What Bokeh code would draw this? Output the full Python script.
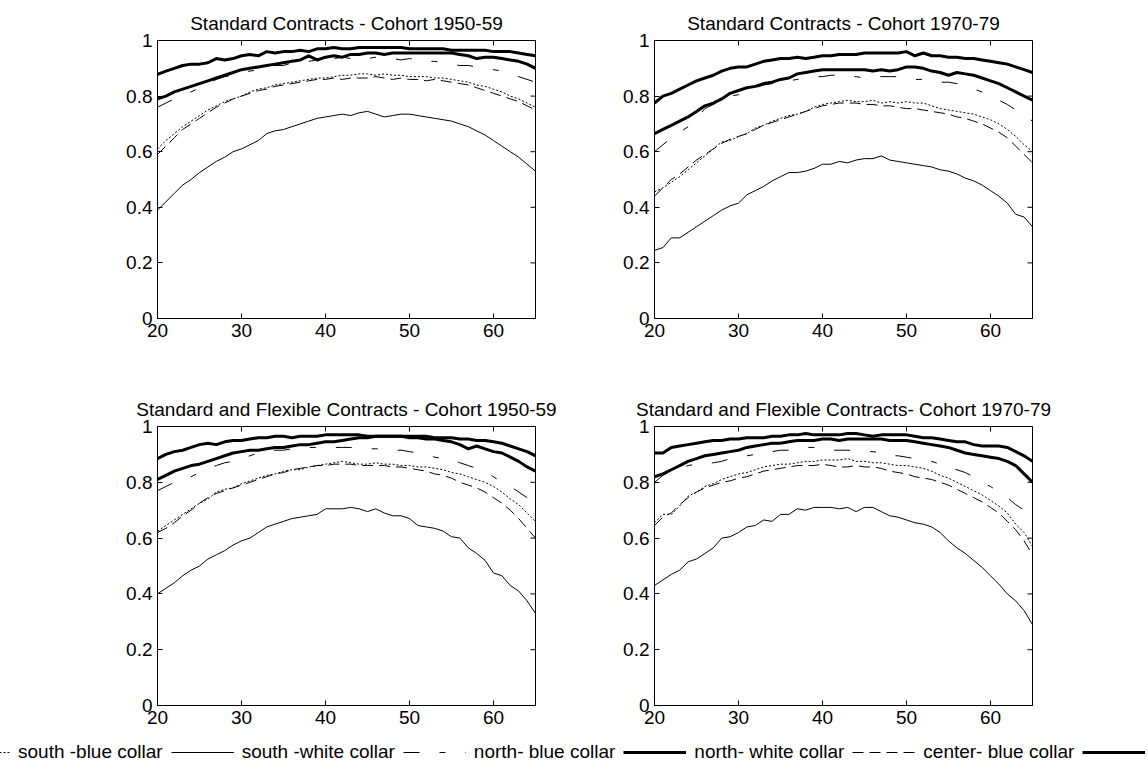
import math
from bokeh.plotting import figure
from bokeh.models import (Range1d, FixedTicker, PrintfTickFormatter,
                          Legend, LegendItem, ColumnDataSource)
from bokeh.layouts import column, row
from bokeh.embed import file_html
from bokeh.resources import INLINE

FONT = "Liberation Sans"

ages = list(range(20, 66))
x_ticks = [20, 30, 40, 50, 60]
y_ticks = [0, 0.2, 0.4, 0.6, 0.8, 1]

titles = ["Standard Contracts - Cohort 1950-59",
          "Standard Contracts - Cohort 1970-79",
          "Standard and Flexible Contracts - Cohort 1950-59",
          "Standard and Flexible Contracts- Cohort 1970-79"]

legend_labels = ["south -blue collar", "south -white collar", "north- blue collar",
                 "north- white collar", "center- blue collar", "center- white collar"]

# ---------------- Panel 1: Standard Contracts - Cohort 1950-59 ----------------
p1_north_white = [.878, .89, .90, .91, .915, .915, .92, .935, .93, .935, .945, .95, .945, .96, .955, .96,
                  .96, .965, .96, .97, .97, .975, .97, .97, .975, .975, .975, .975, .975, .975, .97, .97,
                  .97, .97, .97, .965, .965, .965, .965, .965, .96, .96, .96, .955, .95, .945]
p1_center_white = [.79, .80, .815, .825, .835, .845, .855, .865, .875, .885, .895, .90, .905, .91, .915, .92,
                   .925, .93, .945, .93, .94, .945, .94, .95, .95, .955, .955, .95, .955, .955, .955, .955,
                   .955, .955, .955, .955, .95, .945, .935, .94, .94, .935, .93, .925, .915, .90]
p1_north_blue = [.76, .775, .79, .80, .815, .83, .845, .86, .87, .875, .885, .89, .895, .905, .91, .91,
                 .92, .92, .925, .93, .935, .935, .94, .935, .93, .935, .94, .935, .935, .93, .935, .93,
                 .925, .925, .92, .915, .91, .91, .905, .90, .895, .89, .88, .87, .86, .85]
p1_center_blue = [.59, .62, .65, .68, .70, .72, .74, .76, .775, .79, .80, .81, .82, .825, .835, .84,
                  .845, .85, .855, .86, .86, .865, .86, .865, .865, .865, .87, .865, .86, .865, .86, .86,
                  .855, .86, .855, .85, .845, .84, .83, .82, .81, .80, .79, .78, .765, .75]
p1_south_blue = [.61, .64, .665, .69, .71, .73, .75, .765, .78, .79, .80, .815, .825, .83, .84, .845,
                 .85, .855, .86, .865, .865, .87, .875, .875, .88, .88, .875, .88, .875, .875, .87, .87,
                 .87, .865, .865, .86, .855, .85, .84, .835, .825, .815, .80, .79, .775, .76]
p1_south_white = [.39, .42, .45, .48, .50, .525, .545, .565, .58, .60, .61, .625, .64, .665, .675, .68,
                  .69, .70, .71, .72, .725, .73, .735, .73, .74, .745, .735, .725, .73, .735, .735, .73,
                  .725, .72, .715, .71, .70, .69, .675, .66, .64, .62, .60, .58, .555, .53]

# ---------------- Panel 2: Standard Contracts - Cohort 1970-79 ----------------
p2_north_white = [.775, .80, .81, .825, .84, .855, .865, .875, .89, .90, .905, .905, .915, .925, .93, .935,
                  .935, .94, .935, .94, .945, .945, .95, .95, .95, .955, .955, .955, .955, .955, .96, .945,
                  .955, .945, .945, .94, .94, .935, .935, .93, .925, .92, .915, .905, .895, .885]
p2_center_white = [.665, .68, .695, .71, .725, .745, .765, .775, .79, .81, .82, .83, .835, .845, .85, .86,
                   .865, .88, .885, .89, .895, .895, .895, .895, .895, .895, .89, .895, .89, .895, .905, .905,
                   .90, .89, .885, .875, .885, .88, .875, .865, .855, .845, .83, .815, .80, .785]
p2_north_blue = [.60, .625, .65, .67, .69, .72, .755, .77, .785, .80, .805, .815, .83, .84, .845, .85,
                 .855, .86, .865, .87, .87, .875, .875, .87, .87, .865, .865, .87, .87, .87, .865, .86,
                 .86, .855, .85, .85, .845, .835, .825, .815, .80, .785, .77, .75, .73, .71]
p2_center_blue = [.44, .47, .50, .52, .545, .57, .59, .61, .63, .645, .655, .665, .68, .695, .705, .715,
                  .725, .735, .745, .755, .765, .77, .775, .775, .775, .77, .77, .765, .765, .76, .755, .755,
                  .75, .745, .74, .735, .725, .72, .71, .70, .685, .67, .65, .62, .59, .56]
p2_south_blue = [.455, .47, .49, .51, .535, .56, .585, .61, .635, .64, .655, .665, .685, .695, .71, .72,
                 .73, .735, .745, .76, .77, .775, .78, .785, .78, .78, .785, .775, .78, .775, .78, .775,
                 .775, .765, .755, .75, .745, .74, .735, .725, .715, .70, .68, .655, .625, .60]
p2_south_white = [.245, .255, .29, .29, .31, .33, .35, .37, .39, .405, .415, .445, .46, .475, .495, .51,
                  .525, .525, .53, .54, .555, .555, .565, .56, .57, .575, .575, .585, .57, .565, .56, .555,
                  .55, .545, .535, .53, .52, .505, .495, .48, .46, .44, .415, .375, .365, .33]

# ------- Panel 3: Standard and Flexible Contracts - Cohort 1950-59 -------
p3_north_white = [.885, .90, .91, .915, .925, .935, .94, .935, .945, .95, .95, .955, .96, .96, .965, .965,
                  .96, .965, .965, .965, .97, .97, .97, .97, .97, .965, .965, .965, .965, .965, .965, .965,
                  .965, .96, .96, .96, .955, .955, .95, .95, .945, .94, .93, .92, .91, .895]
p3_center_white = [.81, .825, .84, .85, .86, .865, .875, .885, .895, .905, .91, .915, .915, .92, .925, .925,
                   .93, .935, .935, .94, .945, .945, .95, .955, .96, .96, .965, .965, .965, .965, .96, .96,
                   .955, .955, .95, .945, .935, .92, .93, .92, .91, .905, .89, .875, .855, .84]
p3_north_blue = [.77, .785, .80, .81, .82, .835, .85, .86, .87, .875, .885, .895, .905, .91, .915, .915,
                 .92, .925, .925, .925, .925, .925, .925, .925, .925, .92, .92, .92, .915, .915, .91, .905,
                 .90, .89, .885, .88, .87, .86, .85, .835, .82, .80, .785, .765, .745, .72]
p3_center_blue = [.62, .635, .655, .68, .70, .725, .745, .76, .77, .78, .79, .80, .81, .82, .83, .835,
                  .845, .85, .855, .86, .86, .865, .865, .865, .86, .86, .86, .86, .855, .855, .85, .845,
                  .84, .83, .825, .815, .80, .79, .78, .765, .745, .725, .70, .67, .635, .60]
p3_south_blue = [.625, .645, .665, .685, .705, .725, .74, .765, .775, .78, .795, .805, .815, .825, .83, .84,
                 .845, .845, .855, .86, .865, .87, .875, .87, .865, .865, .87, .865, .865, .86, .86, .855,
                 .855, .85, .845, .835, .83, .82, .81, .80, .785, .765, .74, .72, .69, .66]
p3_south_white = [.40, .42, .44, .465, .485, .50, .525, .54, .555, .575, .59, .60, .62, .64, .65, .66,
                  .67, .675, .68, .685, .705, .705, .705, .71, .705, .695, .705, .69, .68, .68, .67, .645,
                  .64, .635, .625, .605, .60, .565, .545, .52, .475, .465, .43, .41, .375, .33]

# ------- Panel 4: Standard and Flexible Contracts - Cohort 1970-79 -------
p4_north_white = [.905, .905, .925, .93, .935, .94, .945, .95, .95, .955, .955, .96, .96, .96, .965, .965,
                  .97, .97, .975, .97, .97, .97, .97, .975, .975, .97, .965, .97, .97, .97, .97, .965,
                  .96, .96, .955, .95, .945, .945, .935, .93, .93, .93, .925, .91, .895, .875]
p4_center_white = [.82, .83, .845, .86, .875, .885, .895, .90, .905, .91, .915, .925, .93, .935, .94, .94,
                   .945, .95, .95, .95, .955, .955, .95, .955, .955, .955, .955, .955, .95, .95, .95, .945,
                   .94, .935, .93, .925, .915, .905, .90, .895, .89, .885, .875, .86, .83, .80]
p4_north_blue = [.80, .825, .84, .85, .86, .865, .865, .87, .875, .885, .89, .895, .90, .905, .91, .915,
                 .915, .92, .925, .925, .92, .915, .915, .915, .915, .91, .91, .905, .895, .895, .89, .885,
                 .88, .875, .865, .85, .845, .835, .82, .80, .785, .765, .745, .72, .70, .675]
p4_center_blue = [.645, .675, .69, .72, .745, .765, .78, .79, .80, .805, .815, .82, .83, .84, .845, .85,
                  .855, .86, .86, .86, .865, .86, .855, .855, .86, .855, .855, .85, .84, .835, .83, .82,
                  .815, .81, .80, .79, .775, .76, .745, .73, .71, .69, .66, .63, .59, .54]
p4_south_blue = [.655, .685, .685, .715, .75, .765, .785, .795, .81, .82, .83, .835, .845, .855, .86, .865,
                 .865, .87, .875, .875, .88, .88, .88, .885, .875, .875, .87, .87, .865, .86, .86, .855,
                 .85, .84, .825, .815, .80, .785, .77, .755, .735, .715, .69, .65, .62, .57]
p4_south_white = [.43, .45, .47, .485, .515, .525, .545, .565, .60, .605, .62, .64, .645, .665, .66, .685,
                  .685, .705, .70, .71, .71, .71, .705, .71, .695, .71, .71, .695, .68, .675, .665, .655,
                  .65, .64, .62, .59, .565, .545, .52, .495, .465, .435, .40, .375, .34, .29]

panels = [
    [p1_south_blue, p1_south_white, p1_north_blue, p1_north_white, p1_center_blue, p1_center_white],
    [p2_south_blue, p2_south_white, p2_north_blue, p2_north_white, p2_center_blue, p2_center_white],
    [p3_south_blue, p3_south_white, p3_north_blue, p3_north_white, p3_center_blue, p3_center_white],
    [p4_south_blue, p4_south_white, p4_north_blue, p4_north_white, p4_center_blue, p4_center_white],
]

# line styles in legend order
styles = [
    dict(line_width=1, line_dash="2 2"),          # south - blue collar (dotted)
    dict(line_width=1, line_dash="solid"),        # south - white collar
    dict(line_width=1, line_dash="16 20 6 20"),   # north - blue collar (dash-dot)
    dict(line_width=3, line_dash="solid"),        # north - white collar
    dict(line_width=1, line_dash="11 6"),         # center - blue collar
    dict(line_width=3, line_dash="solid"),        # center - white collar
]


def make_panel(title, series, left, right, top, bottom, fh):
    p = figure(frame_width=378, frame_height=fh,
               x_range=Range1d(20, 65), y_range=Range1d(0, 1),
               output_backend="svg", toolbar_location=None,
               min_border_left=left, min_border_right=right,
               min_border_top=top, min_border_bottom=bottom,
               background_fill_color="white", border_fill_color="white")
    p.outline_line_color = "black"
    p.outline_line_width = 1
    p.grid.visible = False
    p.title.text = title
    p.title.align = "center"
    p.title.text_font = FONT
    p.title.text_font_size = "19px"
    p.title.text_font_style = "normal"
    p.title.text_color = "black"
    p.title.standoff = 14

    for ax in (p.xaxis[0], p.yaxis[0]):
        ax.major_tick_in = 5
        ax.major_tick_out = 0
        ax.minor_tick_in = 0
        ax.minor_tick_out = 0
        ax.axis_line_color = "black"
        ax.major_tick_line_color = "black"
        ax.major_label_text_font = FONT
        ax.major_label_text_font_size = "19px"
        ax.major_label_text_color = "black"
        ax.major_label_standoff = 5
    p.xaxis[0].ticker = FixedTicker(ticks=x_ticks)
    p.yaxis[0].ticker = FixedTicker(ticks=y_ticks)
    p.yaxis[0].formatter = PrintfTickFormatter(format="%g")

    # mirrored inner ticks on the top and right frame edges (clipped to frame)
    p.scatter(x=x_ticks, y=[p.y_range.end] * len(x_ticks), marker="dash", size=10,
              angle=math.pi / 2, line_color="black", line_width=1)
    p.scatter(x=[p.x_range.end] * len(y_ticks), y=y_ticks, marker="dash", size=10,
              angle=0, line_color="black", line_width=1)

    for ys, st in zip(series, styles):
        src = ColumnDataSource(dict(x=ages, y=ys))
        p.line("x", "y", source=src, line_color="black", line_join="round", **st)
    return p


# page origin is (0, 0): frames at x 157-535 / 654-1032, y 40-318 / 426-705
p1 = make_panel(titles[0], panels[0], 157, 40, 40, 68, 278)
p2 = make_panel(titles[1], panels[1], 79, 30, 40, 68, 278)
p3 = make_panel(titles[2], panels[2], 157, 40, 40, 30, 279)
p4 = make_panel(titles[3], panels[3], 79, 30, 40, 30, 279)

# legend strip (horizontal legend clipped at both page edges, as in the original)
leg = figure(width=1147, height=30, x_range=Range1d(20, 65), y_range=Range1d(5, 6),
             output_backend="svg", toolbar_location=None, min_border=0,
             x_axis_location=None, y_axis_location=None, outline_line_color=None)
leg.grid.visible = False
items = []
for lab, ys, st in zip(legend_labels, panels[0], styles):
    r = leg.line(x=ages, y=ys, line_color="black", **st)
    items.append(LegendItem(label=lab, renderers=[r]))
legend = Legend(items=items, orientation="horizontal", location=(-53, 2),
                glyph_width=63, glyph_height=18, label_standoff=8, spacing=8,
                padding=0, margin=0, border_line_color=None, background_fill_alpha=0,
                label_text_font=FONT, label_text_font_size="19px", label_text_color="black",
                label_height=18)
leg.add_layout(legend, "center")

layout = column(row(p1, p2), row(p3, p4), leg)

open("out.html", "w").write(file_html(layout, INLINE))
